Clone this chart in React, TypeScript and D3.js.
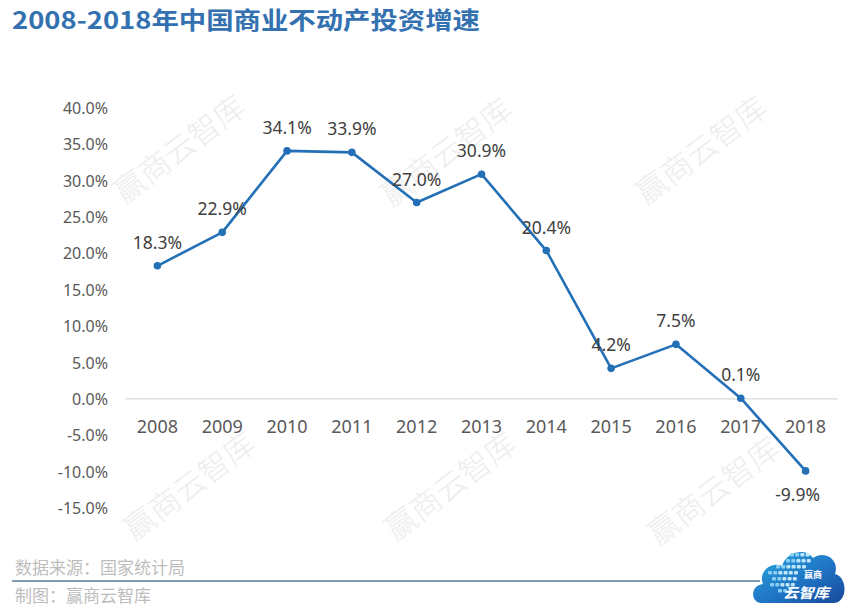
import React from "react";
import * as d3 from "d3";

const years = ["2008", "2009", "2010", "2011", "2012", "2013", "2014", "2015", "2016", "2017", "2018"];
const growth = [18.3, 22.9, 34.1, 33.9, 27.0, 30.9, 20.4, 4.2, 7.5, 0.1, -9.9];
const yTicks = [40, 35, 30, 25, 20, 15, 10, 5, 0, -5, -10, -15];
const title = "2008-2018年中国商业不动产投资增速";
const sourceText = "数据来源：国家统计局";
const makerText = "制图：赢商云智库";
const watermark = "赢商云智库";
const watermarkSpots = [
  [178, 147], [445, 150], [700, 148],
  [188, 484], [449, 484], [712, 489],
];

const W = 862;
const H = 607;
const NUM_FONT = "'Noto Sans', 'Open Sans', sans-serif";
const CJK_FONT = "'Noto Sans CJK SC', 'Noto Sans', sans-serif";

export default function App() {
  const x = d3.scaleBand<string>().domain(years).range([125, 838]).padding(0);
  const y = d3.scaleLinear().domain([-15, 40]).range([508, 108]);
  const cx = (d: string) => (x(d) as number) + x.bandwidth() / 2;

  const line = d3
    .line<number>()
    .x((_, i) => cx(years[i]))
    .y((v) => y(v));

  const fmt = (v: number) => v.toFixed(1) + "%";

  // logo dots
  const dots: [number, number, number][] = [
    [790, 553, 4], [786, 559, 5], [776, 565, 6], [768, 571, 6], [772, 577, 5], [770, 583, 5], [778, 589, 3],
  ];

  return (
    <svg width={W} height={H} style={{ position: "absolute", left: 0, top: 0, background: "#fff" }}>
      <defs>
        <linearGradient id="tl" x1="0" x2="1" y1="0" y2="0">
          <stop offset="0" stopColor="#8a9bb0" />
          <stop offset="0.5" stopColor="#5f86b3" />
          <stop offset="1" stopColor="#4a7bb5" />
        </linearGradient>
        <linearGradient id="cloud" x1="0" x2="1" y1="0" y2="1">
          <stop offset="0" stopColor="#29a9e6" />
          <stop offset="0.6" stopColor="#1f6fc0" />
          <stop offset="1" stopColor="#17489a" />
        </linearGradient>
      </defs>

      {/* title */}
      <text
        x={12}
        y={29}
        fontFamily={CJK_FONT}
        fontWeight={700}
        fontSize={24}
        fill="#3471b0"
        textLength={468}
        lengthAdjust="spacingAndGlyphs"
      >
        {title}
      </text>
      <line x1={10} x2={848} y1={44} y2={44} stroke="url(#tl)" strokeWidth={1.6} />

      {/* watermarks */}
      {watermarkSpots.map(([wx, wy], i) => (
        <text
          key={i}
          transform={`translate(${wx},${wy}) rotate(-37)`}
          textAnchor="middle"
          dominantBaseline="central"
          fontFamily={CJK_FONT}
          fontSize={31}
          fontWeight={300}
          fill="#ededed"
        >
          {watermark}
        </text>
      ))}

      {/* y axis labels */}
      {yTicks.map((t) => (
        <text
          key={t}
          x={108}
          y={y(t)}
          textAnchor="end"
          dominantBaseline="central"
          fontFamily={NUM_FONT}
          fontSize={16}
          fill="#595959"
        >
          {fmt(t)}
        </text>
      ))}

      {/* zero line */}
      <line x1={125} x2={838} y1={y(0)} y2={y(0)} stroke="#d9d9d9" strokeWidth={1.2} />

      {/* x labels */}
      {years.map((yr) => (
        <text
          key={yr}
          x={cx(yr)}
          y={433}
          textAnchor="middle"
          fontFamily={NUM_FONT}
          fontSize={18}
          fill="#595959"
        >
          {yr}
        </text>
      ))}

      {/* line */}
      <path d={line(growth) || ""} fill="none" stroke="#2370b6" strokeWidth={2.6} strokeLinejoin="round" />
      {growth.map((v, i) => (
        <circle key={i} cx={cx(years[i])} cy={y(v)} r={3.8} fill="#2370b6" />
      ))}

      {/* data labels */}
      {growth.map((v, i) => (
        <text
          key={i}
          x={cx(years[i]) + (v < 0 ? -8 : 0)}
          y={v < 0 ? y(v) + 30 : y(v) - 17}
          textAnchor="middle"
          fontFamily={NUM_FONT}
          fontSize={17.5}
          fill="#404040"
        >
          {fmt(v)}
        </text>
      ))}

      {/* footer */}
      <text x={15} y={574} fontFamily={CJK_FONT} fontSize={17} fill="#bdbdbd">
        {sourceText}
      </text>
      <line x1={12} x2={760} y1={581} y2={581} stroke="#5b7896" strokeWidth={1.6} />
      <text x={15} y={602} fontFamily={CJK_FONT} fontSize={17} fill="#bdbdbd">
        {makerText}
      </text>

      {/* logo */}
      <g>
        <path
          d="M762,603 C750,603 750,585 763,584 C758,572 771,561 782,566 C786,552 805,547 813,558 C824,550 840,559 835,574 C848,577 848,603 833,603 Z"
          fill="url(#cloud)"
        />
        {dots.map(([dx, dy, n], i) =>
          d3.range(n).map((k) => (
            <rect
              key={`${i}-${k}`}
              x={dx + k * 5.2}
              y={dy}
              width={4}
              height={3.6}
              rx={1}
              fill={k < 2 ? "#8fd3f4" : "#c9ecfb"}
              opacity={0.95}
            />
          ))
        )}
        <text x={804} y={578} fontFamily={CJK_FONT} fontSize={9} fontWeight={700} fill="#fff">
          赢商
        </text>
        <text
          x={783}
          y={598}
          fontFamily={CJK_FONT}
          fontSize={14}
          fontWeight={700}
          fontStyle="italic"
          fill="#fff"
          textLength={46}
          lengthAdjust="spacingAndGlyphs"
        >
          云智库
        </text>
      </g>
    </svg>
  );
}
